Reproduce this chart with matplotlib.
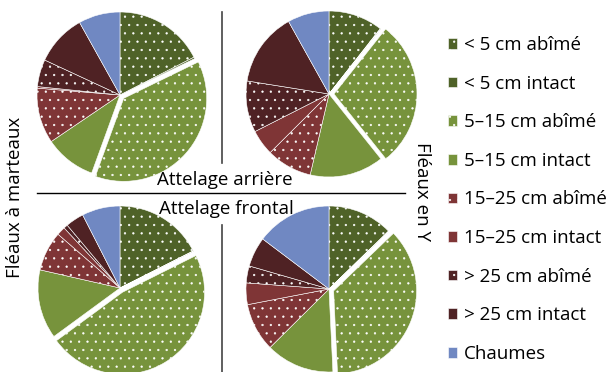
import matplotlib.pyplot as plt
from matplotlib.lines import Line2D

plt.rcParams['font.family'] = ['Open Sans', 'DejaVu Sans']
plt.rcParams['hatch.linewidth'] = 0.4

categories = ['< 5 cm abîmé', '< 5 cm intact', '5–15 cm abîmé', '5–15 cm intact',
              '15–25 cm abîmé', '15–25 cm intact', '> 25 cm abîmé', '> 25 cm intact',
              'Chaumes']
colors = ['#4f6228', '#4f6228', '#77933c', '#77933c', '#7f3536', '#7f3536',
          '#4f2224', '#4f2224', '#7088c2']
hatches = ['..', '', '..', '', '..', '', '..', '', '']

# parts (%) per hitch / flail combination
marteaux_arriere = [17.5, 0.3, 37.8, 10.0, 10.8, 0.3, 5.3, 10.0, 8.1]
y_arriere = [10.6, 0.1, 28.6, 14.4, 8.9, 5.0, 10.0, 14.4, 8.1]
marteaux_frontal = [17.5, 0.1, 47.2, 13.6, 7.8, 1.7, 0.8, 3.6, 7.5]
y_frontal = [12.7, 0.1, 36.4, 13.3, 9.4, 4.2, 3.3, 5.8, 14.7]

W, H = 607, 372
fig = plt.figure(figsize=(W / 100, H / 100), dpi=100)

# (center x, center y, radius) in pixels
pies = [
    (marteaux_arriere, 120, 95, 83),
    (y_arriere, 329, 94, 83),
    (marteaux_frontal, 120, 288, 82),
    (y_frontal, 329, 289, 83),
]
lim = 1.15
wedges = None
for vals, cx, cy, r in pies:
    w = 2 * r * lim
    ax = fig.add_axes([(cx - w / 2) / W, 1 - (cy + w / 2) / H, w / W, w / H])
    explode = [0, 0, 0.06, 0, 0, 0, 0, 0, 0]
    ws, _ = ax.pie(vals, colors=colors, startangle=90, counterclock=False,
                   explode=explode,
                   wedgeprops=dict(edgecolor='white', linewidth=0.4))
    for wd, h in zip(ws, hatches):
        wd.set_hatch(h)
    ax.set_xlim(-lim, lim)
    ax.set_ylim(-lim, lim)
    ax.set_aspect('equal')
    ax.axis('off')
    if wedges is None:
        wedges = ws

# separating lines
fig.add_artist(Line2D([37 / W, 405 / W], [1 - 193 / H, 1 - 193 / H], color='black', lw=1))
fig.add_artist(Line2D([222 / W, 222 / W], [1 - 12 / H, 1 - 163 / H], color='#444444', lw=1.2))
fig.add_artist(Line2D([222 / W, 222 / W], [1 - 225 / H, 1 - 372 / H], color='#444444', lw=1.2))

fs = 13.5
fig.text(225 / W, 1 - 180 / H, 'Attelage arrière', ha='center', va='center', fontsize=fs)
fig.text(226 / W, 1 - 209 / H, 'Attelage frontal', ha='center', va='center', fontsize=fs)
fig.text(15 / W, 1 - 197 / H, 'Fléaux à marteaux', rotation=90, ha='center', va='center', fontsize=fs)
fig.text(422 / W, 1 - 192 / H, 'Fléaux en Y', rotation=-90, ha='center', va='center', fontsize=fs)

fig.legend(wedges, categories, loc='upper left', bbox_to_anchor=(448 / W, 1 - 36 / H),
           frameon=False, fontsize=fs, handlelength=0.5, handleheight=0.5,
           handletextpad=0.35, labelspacing=1.1, borderpad=0, borderaxespad=0)

fig.savefig('out.png', dpi=100)
